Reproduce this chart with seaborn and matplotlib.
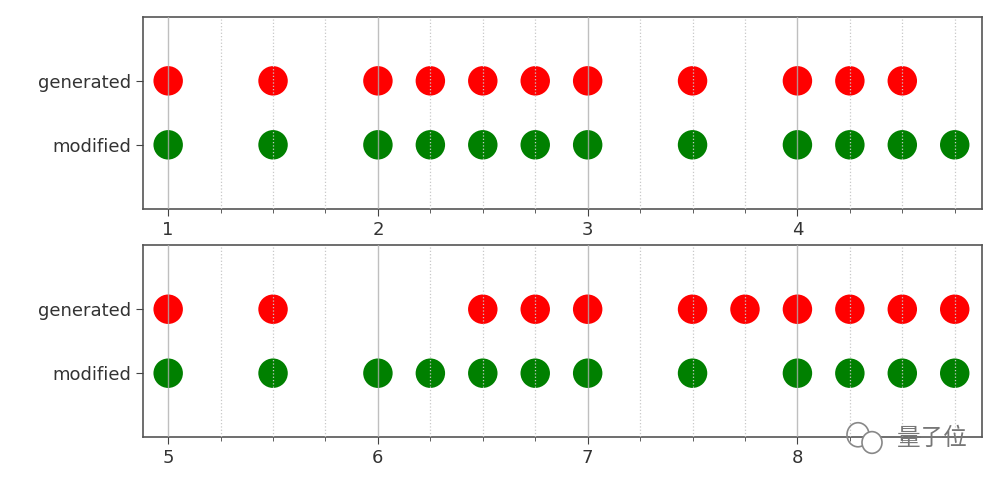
import matplotlib
matplotlib.use("Agg")
import matplotlib.pyplot as plt
from matplotlib.ticker import MultipleLocator
from matplotlib.patches import Ellipse
import seaborn as sns
import pandas as pd

# Data
top_generated = [1, 1.5, 2, 2.25, 2.5, 2.75, 3, 3.5, 4, 4.25, 4.5]
top_modified = [1, 1.5, 2, 2.25, 2.5, 2.75, 3, 3.5, 4, 4.25, 4.5, 4.75]
bottom_generated = [5, 5.5, 6.5, 6.75, 7, 7.5, 7.75, 8, 8.25, 8.5, 8.75]
bottom_modified = [5, 5.5, 6, 6.25, 6.5, 6.75, 7, 7.5, 8, 8.25, 8.5, 8.75]
row_labels = ["modified", "generated"]
palette = {"generated": "red", "modified": "green"}


def make_frame(gen, mod):
    rows = [(x, 1, "generated") for x in gen] + [(x, 0, "modified") for x in mod]
    return pd.DataFrame(rows, columns=["x", "y", "kind"])


fig, axes = plt.subplots(2, 1, figsize=(10, 4.82), dpi=100)
plt.subplots_adjust(left=0.143, right=0.982, top=0.965, bottom=0.093, hspace=0.19)

panels = [(top_generated, top_modified, 1), (bottom_generated, bottom_modified, 5)]
for ax, (gen, mod, start) in zip(axes, panels):
    df = make_frame(gen, mod)
    sns.scatterplot(data=df, x="x", y="y", hue="kind", palette=palette,
                    s=450, linewidth=0, legend=False, ax=ax, zorder=1)
    ax.set_xlim(start - 0.12, start + 3.88)
    ax.set_ylim(-1, 2)
    ax.set_yticks([0, 1])
    ax.set_yticklabels(row_labels)
    ax.xaxis.set_major_locator(MultipleLocator(1))
    ax.xaxis.set_minor_locator(MultipleLocator(0.25))
    ax.set_axisbelow(False)
    ax.grid(which="major", axis="x", color="#b0b0b0", linewidth=1.0, alpha=0.8, zorder=3)
    ax.grid(which="minor", axis="x", color="#c8c8c8", linestyle=":", linewidth=0.9, zorder=3)
    ax.set_xlabel("")
    ax.set_ylabel("")
    for sp in ax.spines.values():
        sp.set_color("#555555")
        sp.set_linewidth(1.2)
    ax.tick_params(colors="#444444", labelsize=13, length=5)
    ax.tick_params(which="minor", colors="#444444", length=3)
    ax.tick_params(axis="x", labelcolor="#333333")
    ax.tick_params(axis="y", labelcolor="#333333")

# watermark
fig.text(0.968, 0.09, "量子位", ha="right", va="center", fontsize=17,
         color="#777777", family=["Noto Sans CJK SC", "DejaVu Sans"])
fig.add_artist(Ellipse((0.858, 0.098), 0.022, 0.05, transform=fig.transFigure,
                       fill=False, edgecolor="#888888", linewidth=1.2))
fig.add_artist(Ellipse((0.872, 0.082), 0.02, 0.045, transform=fig.transFigure,
                       facecolor="white", edgecolor="#888888", linewidth=1.2))

fig.savefig("out.png", dpi=100)
